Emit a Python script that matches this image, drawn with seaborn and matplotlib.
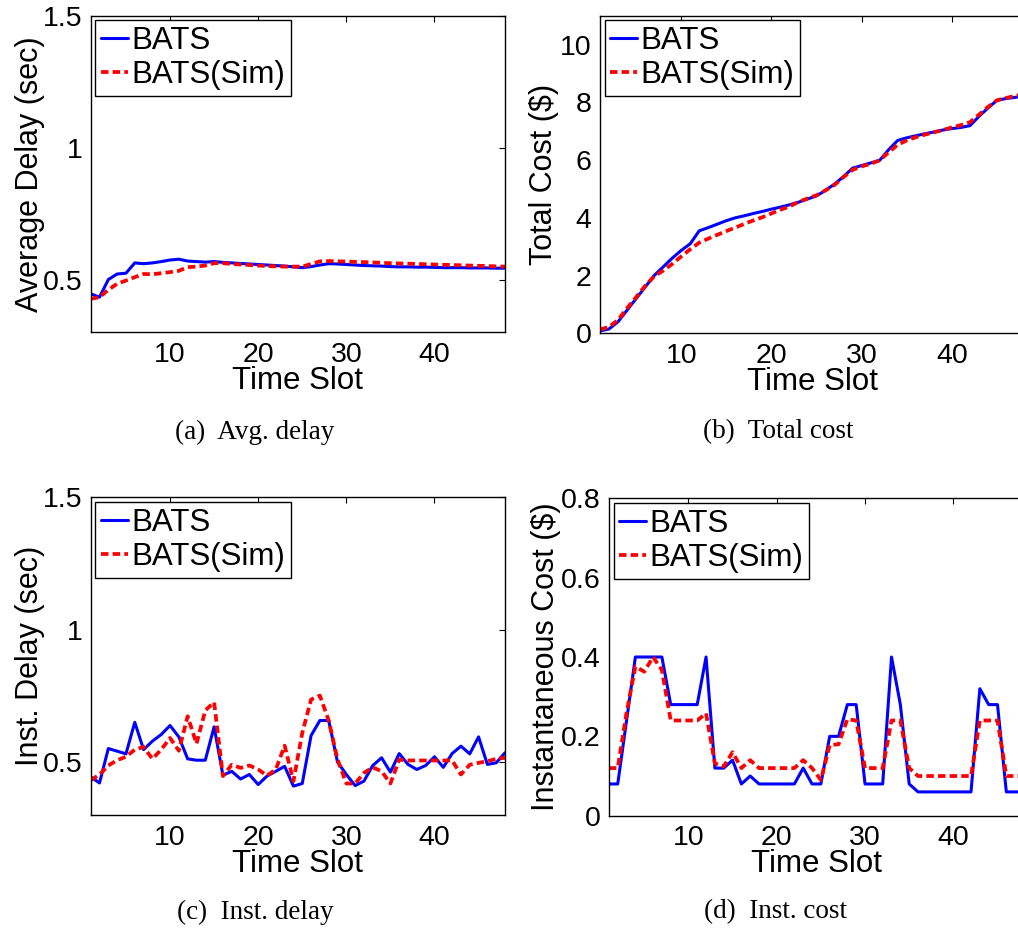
import numpy as np
import pandas as pd
import matplotlib
matplotlib.use("Agg")
import matplotlib.pyplot as plt
import seaborn as sns

sns.set_theme(style="white")
plt.rcParams['font.family'] = ['Liberation Sans', 'DejaVu Sans']
plt.rcParams['text.color'] = 'black'
plt.rcParams['axes.labelcolor'] = 'black'
plt.rcParams['xtick.color'] = 'black'
plt.rcParams['ytick.color'] = 'black'

time_slot = list(range(1, 49))

avg_delay_bats = [0.446, 0.433, 0.500, 0.521, 0.524, 0.563, 0.560, 0.563, 0.568, 0.574,
                  0.577, 0.570, 0.568, 0.566, 0.568, 0.565, 0.563, 0.561, 0.559, 0.557,
                  0.555, 0.553, 0.551, 0.548, 0.545, 0.549, 0.555, 0.560, 0.559, 0.557,
                  0.555, 0.553, 0.552, 0.551, 0.549, 0.548, 0.548, 0.547, 0.547, 0.546,
                  0.545, 0.545, 0.545, 0.544, 0.544, 0.544, 0.543, 0.543]
avg_delay_sim = [0.427, 0.433, 0.461, 0.484, 0.496, 0.509, 0.521, 0.520, 0.524, 0.528,
                 0.533, 0.547, 0.549, 0.553, 0.562, 0.562, 0.559, 0.557, 0.555, 0.553,
                 0.551, 0.550, 0.549, 0.549, 0.549, 0.559, 0.569, 0.570, 0.569, 0.568,
                 0.567, 0.566, 0.565, 0.563, 0.562, 0.561, 0.560, 0.559, 0.558, 0.557,
                 0.556, 0.555, 0.554, 0.553, 0.552, 0.551, 0.550, 0.549]

total_cost_bats = [0.08, 0.15, 0.40, 0.80, 1.20, 1.60, 2.00, 2.30, 2.60, 2.87,
                   3.10, 3.55, 3.66, 3.78, 3.90, 4.00, 4.07, 4.15, 4.22, 4.30,
                   4.37, 4.45, 4.54, 4.65, 4.76, 4.95, 5.17, 5.43, 5.72, 5.81,
                   5.90, 5.99, 6.36, 6.68, 6.77, 6.84, 6.91, 6.97, 7.04, 7.09,
                   7.13, 7.19, 7.51, 7.80, 8.07, 8.13, 8.17, 8.22]
total_cost_sim = [0.13, 0.22, 0.46, 0.87, 1.25, 1.64, 1.97, 2.17, 2.40, 2.66,
                  2.91, 3.14, 3.28, 3.41, 3.54, 3.66, 3.79, 3.91, 4.02, 4.15,
                  4.28, 4.39, 4.55, 4.67, 4.78, 4.95, 5.14, 5.41, 5.66, 5.78,
                  5.87, 5.99, 6.27, 6.53, 6.68, 6.79, 6.88, 6.96, 7.04, 7.13,
                  7.21, 7.31, 7.57, 7.84, 8.07, 8.15, 8.22, 8.29]

inst_delay_bats = [0.444, 0.421, 0.551, 0.541, 0.531, 0.650, 0.547, 0.579, 0.604, 0.638,
                   0.595, 0.512, 0.507, 0.507, 0.633, 0.450, 0.465, 0.436, 0.453, 0.415,
                   0.447, 0.465, 0.484, 0.409, 0.419, 0.600, 0.657, 0.657, 0.500, 0.453,
                   0.411, 0.428, 0.487, 0.516, 0.462, 0.532, 0.491, 0.472, 0.487, 0.520,
                   0.480, 0.532, 0.560, 0.531, 0.595, 0.491, 0.497, 0.535]
inst_delay_sim = [0.431, 0.453, 0.487, 0.507, 0.520, 0.547, 0.557, 0.512, 0.547, 0.591,
                  0.543, 0.673, 0.569, 0.695, 0.726, 0.447, 0.490, 0.478, 0.487, 0.472,
                  0.449, 0.472, 0.562, 0.428, 0.610, 0.736, 0.751, 0.657, 0.510, 0.419,
                  0.419, 0.459, 0.480, 0.465, 0.419, 0.509, 0.506, 0.506, 0.506, 0.506,
                  0.506, 0.506, 0.453, 0.490, 0.497, 0.503, 0.512, 0.516]

inst_cost_bats = [0.08, 0.08, 0.24, 0.40, 0.40, 0.40, 0.40, 0.28, 0.28, 0.28,
                  0.28, 0.40, 0.12, 0.12, 0.14, 0.08, 0.10, 0.08, 0.08, 0.08,
                  0.08, 0.08, 0.12, 0.08, 0.08, 0.20, 0.20, 0.28, 0.28, 0.08,
                  0.08, 0.08, 0.40, 0.28, 0.08, 0.06, 0.06, 0.06, 0.06, 0.06,
                  0.06, 0.06, 0.32, 0.28, 0.28, 0.06, 0.06, 0.06]
inst_cost_sim = [0.12, 0.12, 0.26, 0.376, 0.363, 0.40, 0.367, 0.24, 0.24, 0.24,
                 0.24, 0.258, 0.132, 0.124, 0.16, 0.12, 0.14, 0.12, 0.12, 0.12,
                 0.12, 0.12, 0.14, 0.12, 0.09, 0.178, 0.18, 0.243, 0.24, 0.12,
                 0.12, 0.12, 0.24, 0.24, 0.12, 0.10, 0.10, 0.10, 0.10, 0.10,
                 0.10, 0.10, 0.24, 0.24, 0.24, 0.10, 0.10, 0.10]

series_names = ["BATS", "BATS(Sim)"]
panel_ylabels = ["Average Delay (sec)", "Total Cost ($)", "Inst. Delay (sec)", "Instantaneous Cost ($)"]
panel_captions = ["(a)  Avg. delay", "(b)  Total cost", "(c)  Inst. delay", "(d)  Inst. cost"]
panel_ylims = [(0.3, 1.5), (0, 11), (0.3, 1.5), (0, 0.8)]
panel_yticks = [[0.5, 1, 1.5], [0, 2, 4, 6, 8, 10], [0.5, 1, 1.5], [0, 0.2, 0.4, 0.6, 0.8]]
panel_yticklabels = [["0.5", "1", "1.5"], ["0", "2", "4", "6", "8", "10"], ["0.5", "1", "1.5"],
                     ["0", "0.2", "0.4", "0.6", "0.8"]]
panel_data = [(avg_delay_bats, avg_delay_sim), (total_cost_bats, total_cost_sim),
              (inst_delay_bats, inst_delay_sim), (inst_cost_bats, inst_cost_sim)]

W, H = 1018, 930
fig = plt.figure(figsize=(W / 100, H / 100), dpi=100)

# pixel boxes: left, top, right, bottom
boxes = [(90.7, 15.7, 505.0, 332.3),
         (600.0, 15.7, 1024.0, 333.3),
         (90.7, 497.3, 505.0, 815.0),
         (608.9, 498.3, 1024.0, 815.7)]
caption_pos = [(255, 432), (778, 432), (255, 912), (775, 912)]
ylabel_x = [30, 544, 30, 546]

for i in range(4):
    l, t, r, b = boxes[i]
    ax = fig.add_axes([l / W, 1 - b / H, (r - l) / W, (b - t) / H])
    bats, sim = panel_data[i]
    df = pd.DataFrame({"Time Slot": time_slot * 2,
                       "value": list(bats) + list(sim),
                       "series": [series_names[0]] * 48 + [series_names[1]] * 48})
    sns.lineplot(data=df[df.series == series_names[0]], x="Time Slot", y="value",
                 ax=ax, color="#0000FF", linewidth=2.2, label=series_names[0])
    sns.lineplot(data=df[df.series == series_names[1]], x="Time Slot", y="value",
                 ax=ax, color="#FF0000", linewidth=2.7, label=series_names[1],
                 dashes=False, linestyle=(0, (2.0, 1.1)))
    ax.set_xlim(1, 48)
    ax.set_ylim(*panel_ylims[i])
    ax.set_xticks([10, 20, 30, 40])
    ax.set_xticklabels(["10", "20", "30", "40"])
    ax.set_yticks(panel_yticks[i])
    ax.set_yticklabels(panel_yticklabels[i])
    ax.tick_params(direction="in", top=True, right=True, length=4, width=0.8,
                   labelsize=20.5, pad=6, colors="black", labelcolor="black")
    ax.tick_params(axis="x", pad=7)
    for s in ax.spines.values():
        s.set_color("black")
        s.set_linewidth(1.0)
        s.set_visible(True)
    ax.set_xlabel("Time Slot", fontsize=22.5, labelpad=-1.5, color="black")
    ax.set_ylabel("")
    fig.text(ylabel_x[i] / W, 1 - ((t + b) / 2) / H, panel_ylabels[i], rotation=90,
             fontsize=22, ha="center", va="center", color="black")
    leg = ax.legend(loc="upper left", fontsize=22.5, frameon=True, fancybox=False,
                    edgecolor="black", framealpha=1, handlelength=0.85, handletextpad=0.12,
                    borderpad=0.18, labelspacing=0.14, borderaxespad=0.15)
    leg.get_frame().set_linewidth(1.0)
    for txt in leg.get_texts():
        txt.set_color("black")
    ax.set_facecolor("white")
    fig.text(caption_pos[i][0] / W, 1 - caption_pos[i][1] / H, panel_captions[i],
             family=["Liberation Serif", "DejaVu Serif"], fontsize=19.5,
             ha="center", va="center", color="black")

fig.savefig("out.png", dpi=100, facecolor="white")
